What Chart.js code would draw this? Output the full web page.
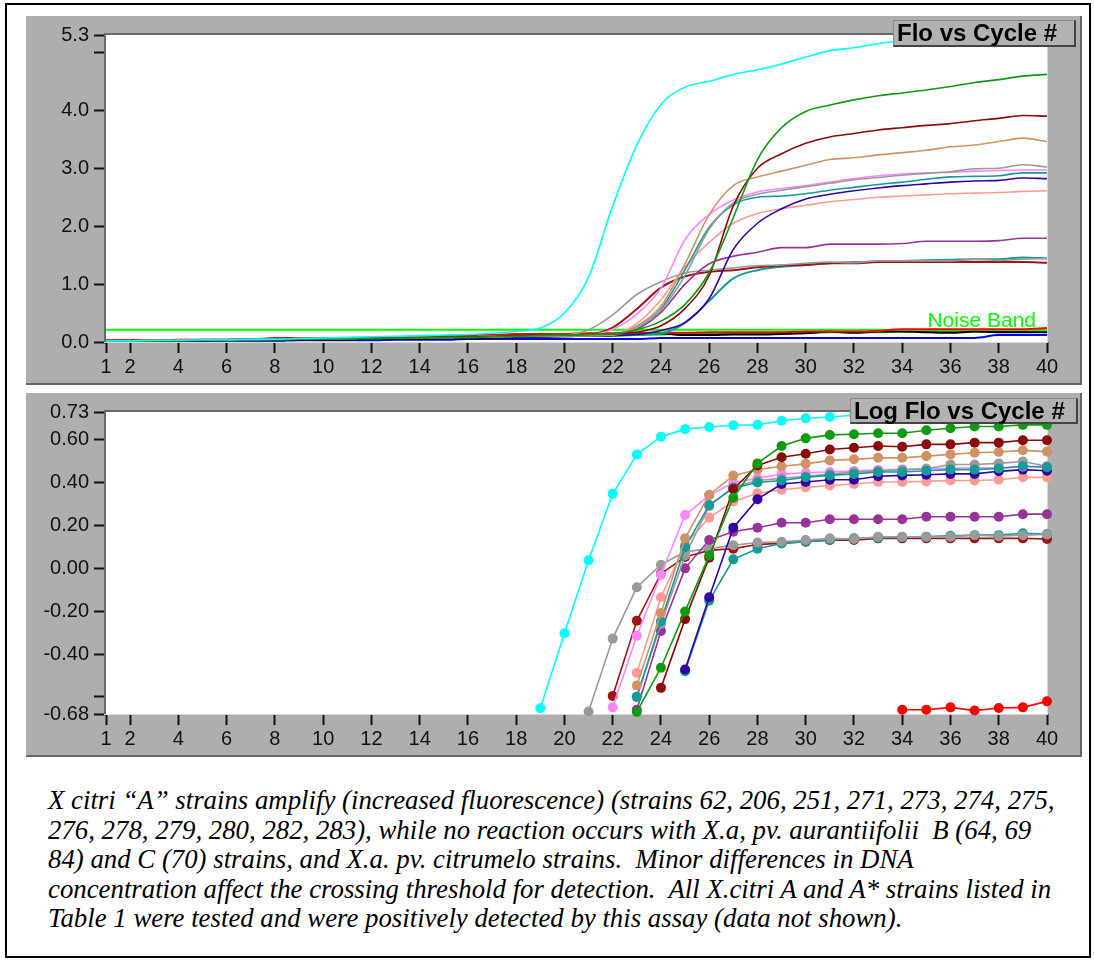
<!DOCTYPE html>
<html><head><meta charset="utf-8">
<script src="https://cdn.jsdelivr.net/npm/chart.js@4.4.1/dist/chart.umd.min.js"></script>
<style>
html,body{margin:0;padding:0;background:#fff;}
body{width:1094px;height:966px;position:relative;overflow:hidden;font-family:"Liberation Sans",Arial,sans-serif;}
#frame{position:absolute;left:5px;top:3px;width:1086px;height:955px;border:2px solid #000;box-sizing:border-box;}
.panel{position:absolute;left:26px;width:1056px;background:#AEAEAE;box-sizing:border-box;border-right:2px solid #666;border-bottom:2px solid #666;}
#p1{top:16px;height:369px;}
#p2{top:393px;height:364px;}
canvas{display:block;}
.title{position:absolute;background:#B2B2B2;font-weight:bold;font-size:24px;line-height:24px;color:#000;box-sizing:border-box;border-top:1px solid #888;border-left:1px solid #888;border-right:2px solid #444;border-bottom:2px solid #444;padding-left:3px;white-space:nowrap;}
#t1{left:893px;top:20px;width:183px;height:27px;}
#t2{left:850px;top:398px;width:228px;height:26px;}
#caption{position:absolute;left:48px;top:786px;font-family:"Liberation Serif","Times New Roman",serif;font-style:italic;font-size:26.8px;line-height:29.6px;white-space:nowrap;color:#000;}
</style></head>
<body>
<div id="frame"></div>
<div class="panel" id="p1"><canvas id="c1" width="1054" height="367"></canvas></div>
<div class="panel" id="p2"><canvas id="c2" width="1054" height="362"></canvas></div>
<div class="title" id="t1">Flo vs Cycle #</div>
<div class="title" id="t2">Log Flo vs Cycle #</div>
<div id="caption">X citri “A” strains amplify (increased fluorescence) (strains 62, 206, 251, 271, 273, 274, 275,<br>276, 278, 279, 280, 282, 283), while no reaction occurs with X.a, pv. aurantiifolii&nbsp; B (64, 69<br>84) and C (70) strains, and X.a. pv. citrumelo strains.&nbsp; Minor differences in DNA<br>concentration affect the crossing threshold for detection.&nbsp; All X.citri A and A* strains listed in<br>Table 1 were tested and were positively detected by this assay (data not shown).</div>
<script>
// ---------- data ----------
const cycles = [1,2,3,4,5,6,7,8,9,10,11,12,13,14,15,16,17,18,19,20,21,22,23,24,25,26,27,28,29,30,31,32,33,34,35,36,37,38,39,40];
const xTickValues = [1,2,4,6,8,10,12,14,16,18,20,22,24,26,28,30,32,34,36,38,40];
const topYTicks = [0,1,2,3,4,5,5.3];
const topYLabels = ['0.0','1.0','2.0','3.0','4.0','','5.3'];
const logYTicks = [-0.68,-0.6,-0.4,-0.2,0,0.2,0.4,0.6,0.73];
const logYLabels = ['-0.68','','-0.40','-0.20','0.00','0.20','0.40','0.60','0.73'];
const noiseLevel = 0.21;

// Flo vs Cycle # (one value per cycle 1..40)
const topCyan   = [0.02,0.02,0.03,0.03,0.04,0.04,0.05,0.05,0.06,0.07,0.08,0.09,0.10,0.11,0.12,0.13,0.15,0.18,0.24,0.50,1.12,2.35,3.40,4.10,4.40,4.50,4.62,4.70,4.80,4.92,5.03,5.08,5.15,5.20,5.24,5.27,5.29,5.30,5.30,5.30];
const topGreen  = [0.01,0.01,0.02,0.02,0.03,0.03,0.04,0.04,0.05,0.05,0.06,0.06,0.07,0.07,0.08,0.08,0.09,0.10,0.11,0.12,0.13,0.14,0.21,0.36,0.65,1.20,2.15,3.15,3.70,3.98,4.09,4.18,4.25,4.30,4.35,4.41,4.48,4.53,4.59,4.62];
const topDarkRed= [0.02,0.02,0.03,0.03,0.04,0.04,0.05,0.05,0.06,0.06,0.07,0.07,0.08,0.08,0.09,0.09,0.10,0.11,0.12,0.12,0.13,0.14,0.17,0.28,0.58,1.15,2.35,3.00,3.25,3.43,3.54,3.60,3.66,3.70,3.74,3.77,3.82,3.86,3.91,3.90];
const topTan    = [0.02,0.02,0.02,0.03,0.03,0.04,0.04,0.05,0.05,0.06,0.06,0.07,0.07,0.08,0.08,0.09,0.09,0.10,0.10,0.11,0.11,0.12,0.28,0.62,1.35,2.20,2.70,2.85,2.95,3.05,3.15,3.18,3.23,3.27,3.31,3.37,3.40,3.46,3.52,3.46];
const topGrayHi = [0.02,0.02,0.03,0.03,0.04,0.04,0.05,0.05,0.05,0.06,0.06,0.07,0.07,0.08,0.08,0.09,0.09,0.10,0.10,0.11,0.11,0.12,0.25,0.55,1.15,1.95,2.40,2.55,2.62,2.68,2.74,2.80,2.84,2.88,2.91,2.94,2.99,3.00,3.06,3.02];
const topPink   = [0.02,0.02,0.03,0.03,0.04,0.04,0.05,0.05,0.06,0.06,0.07,0.07,0.08,0.08,0.09,0.09,0.10,0.10,0.11,0.11,0.12,0.22,0.48,0.93,1.77,2.20,2.45,2.59,2.65,2.70,2.76,2.82,2.87,2.90,2.92,2.93,2.95,2.96,2.97,2.97];
const topTeal   = [0.02,0.02,0.03,0.03,0.03,0.04,0.04,0.05,0.05,0.06,0.06,0.07,0.07,0.08,0.08,0.09,0.09,0.10,0.10,0.11,0.11,0.12,0.25,0.57,1.25,1.98,2.37,2.50,2.52,2.56,2.62,2.67,2.72,2.76,2.81,2.85,2.86,2.87,2.92,2.92];
const topNavy   = [0.01,0.01,0.02,0.02,0.02,0.03,0.03,0.04,0.04,0.05,0.05,0.06,0.06,0.07,0.07,0.08,0.08,0.09,0.09,0.10,0.10,0.11,0.13,0.20,0.34,0.75,1.60,2.05,2.30,2.47,2.55,2.61,2.66,2.70,2.73,2.76,2.78,2.79,2.83,2.82];
const topSalmon = [0.02,0.02,0.03,0.03,0.04,0.04,0.05,0.05,0.06,0.06,0.07,0.07,0.08,0.08,0.09,0.09,0.10,0.10,0.11,0.11,0.12,0.13,0.32,0.73,1.30,1.72,2.05,2.22,2.30,2.36,2.42,2.46,2.50,2.52,2.54,2.56,2.57,2.58,2.60,2.61];
const topPurple = [0.02,0.02,0.03,0.03,0.04,0.04,0.05,0.05,0.06,0.06,0.07,0.07,0.08,0.08,0.09,0.09,0.10,0.10,0.11,0.11,0.12,0.13,0.22,0.51,1.00,1.35,1.48,1.55,1.63,1.63,1.69,1.69,1.69,1.70,1.74,1.74,1.74,1.75,1.79,1.79];
const topGrayLo = [0.02,0.02,0.03,0.03,0.04,0.04,0.05,0.05,0.06,0.06,0.07,0.07,0.08,0.08,0.09,0.09,0.10,0.10,0.11,0.12,0.21,0.47,0.82,1.04,1.19,1.24,1.28,1.32,1.33,1.36,1.38,1.37,1.40,1.40,1.40,1.40,1.43,1.41,1.43,1.44];
const topMaroon = [0.02,0.02,0.03,0.03,0.04,0.04,0.05,0.05,0.06,0.06,0.07,0.07,0.08,0.08,0.09,0.09,0.10,0.10,0.11,0.12,0.13,0.25,0.57,0.94,1.13,1.21,1.24,1.29,1.32,1.33,1.36,1.36,1.38,1.38,1.38,1.38,1.38,1.38,1.38,1.37];
const topTeal2  = [0.01,0.01,0.02,0.02,0.03,0.03,0.04,0.04,0.05,0.05,0.06,0.06,0.07,0.07,0.08,0.08,0.09,0.09,0.10,0.10,0.11,0.12,0.13,0.15,0.33,0.71,1.10,1.24,1.30,1.33,1.36,1.38,1.39,1.40,1.41,1.42,1.43,1.43,1.46,1.44];
const topRed    = [0.03,0.03,0.03,0.04,0.04,0.04,0.04,0.07,0.07,0.07,0.07,0.07,0.08,0.09,0.10,0.12,0.12,0.14,0.14,0.14,0.15,0.15,0.16,0.16,0.16,0.17,0.17,0.17,0.17,0.18,0.18,0.18,0.19,0.22,0.22,0.22,0.22,0.22,0.22,0.24];
const topBlue   = [0.01,0.01,0.01,0.02,0.02,0.02,0.02,0.02,0.03,0.03,0.03,0.03,0.04,0.04,0.04,0.05,0.05,0.05,0.05,0.05,0.05,0.05,0.05,0.07,0.07,0.07,0.07,0.07,0.07,0.07,0.07,0.07,0.07,0.07,0.07,0.07,0.07,0.12,0.12,0.12];
const topBlack  = [0.02,0.02,0.02,0.02,0.03,0.03,0.03,0.03,0.04,0.04,0.04,0.05,0.05,0.05,0.06,0.06,0.07,0.08,0.09,0.10,0.11,0.12,0.14,0.15,0.12,0.12,0.13,0.13,0.14,0.15,0.18,0.16,0.18,0.18,0.17,0.16,0.18,0.17,0.17,0.17];
const topGreen2 = [0.01,0.01,0.02,0.03,0.03,0.03,0.04,0.04,0.05,0.05,0.06,0.06,0.07,0.07,0.08,0.08,0.09,0.09,0.10,0.10,0.11,0.11,0.12,0.13,0.14,0.14,0.15,0.15,0.16,0.16,0.17,0.17,0.17,0.18,0.18,0.18,0.18,0.18,0.18,0.18];

// Log Flo vs Cycle # (values from the first plotted cycle on)
const logCyanFrom = 19;   const logCyan   = [-0.653,-0.303,0.038,0.348,0.532,0.615,0.650,0.660,0.668,0.670,0.689,0.701,0.707,0.715,0.720,0.720,0.725,0.725,0.727,0.728,0.730,0.730];
const logGreenFrom = 23;  const logGreen  = [-0.67,-0.464,-0.201,0.060,0.33,0.49,0.571,0.607,0.623,0.626,0.631,0.631,0.645,0.654,0.662,0.662,0.670,0.670];
const logDarkRedFrom = 24;const logDarkRed= [-0.558,-0.237,0.05,0.37,0.48,0.519,0.535,0.555,0.563,0.571,0.568,0.579,0.579,0.587,0.587,0.598,0.598];
const logTanFrom = 23;    const logTan    = [-0.547,-0.209,0.14,0.344,0.433,0.461,0.477,0.488,0.504,0.509,0.516,0.516,0.524,0.532,0.540,0.543,0.551,0.545];
const logGrayHiFrom = 23; const logGrayHi = [-0.60,-0.26,0.06,0.29,0.38,0.41,0.42,0.43,0.44,0.45,0.455,0.46,0.465,0.485,0.485,0.49,0.499,0.477];
const logPinkFrom = 22;   const logPink   = [-0.649,-0.315,-0.03,0.249,0.34,0.40,0.42,0.44,0.446,0.45,0.455,0.46,0.462,0.465,0.467,0.47,0.47,0.475,0.475];
const logTealFrom = 23;   const logTeal   = [-0.60,-0.247,0.099,0.296,0.375,0.401,0.410,0.425,0.434,0.441,0.450,0.450,0.456,0.461,0.461,0.466,0.477,0.472];
const logNavyFrom = 25;   const logNavy   = [-0.472,-0.135,0.19,0.323,0.394,0.403,0.414,0.414,0.430,0.434,0.437,0.441,0.441,0.453,0.461,0.456];
const logSalmonFrom = 23; const logSalmon = [-0.488,-0.135,0.11,0.237,0.312,0.351,0.367,0.378,0.387,0.394,0.403,0.403,0.406,0.410,0.410,0.414,0.425,0.425];
const logPurpleFrom = 23; const logPurple = [-0.66,-0.292,0.0,0.132,0.171,0.190,0.213,0.213,0.229,0.229,0.229,0.229,0.241,0.241,0.241,0.241,0.253,0.253];
const logGrayLoFrom = 21; const logGrayLo = [-0.668,-0.328,-0.088,0.017,0.077,0.092,0.108,0.121,0.124,0.132,0.140,0.137,0.147,0.147,0.147,0.147,0.155,0.150,0.155,0.158];
const logMaroonFrom = 22; const logMaroon = [-0.596,-0.245,-0.025,0.053,0.084,0.092,0.111,0.118,0.124,0.132,0.132,0.140,0.140,0.140,0.140,0.140,0.140,0.140,0.137];
const logTeal2From = 25;  const logTeal2  = [-0.48,-0.151,0.042,0.092,0.116,0.125,0.133,0.140,0.143,0.146,0.148,0.152,0.155,0.155,0.164,0.160];
const logRedFrom = 34;    const logRed    = [-0.660,-0.660,-0.649,-0.664,-0.652,-0.649,-0.621];

// ---------- colours ----------
const C = {cyan:'#00FFFF', green:'#109A10', darkRed:'#8C0A0A', tan:'#D09262', grayHi:'#9A9A9A', pink:'#FF84FF',
  teal:'#159A9A', navy:'#3300A8', salmon:'#FF9A94', purple:'#993399', grayLo:'#9A9A9A', maroon:'#A01414',
  teal2:'#159A9A', red:'#FF0000', blue:'#0000FF', black:'#000000', green2:'#00C000', noise:'#00FF00'};

const FONT = '"Liberation Sans", Arial, sans-serif';
const full = vals => vals.map((v,i)=>({x:cycles[i], y:v}));
const from = (start, vals) => vals.map((v,i)=>({x:cycles[start-1+i], y:v}));

function scales(yMin, yMax, yTicks, yLabels, xH){
  return {
    x:{type:'linear', min:1, max:40,
      afterBuildTicks:a=>{a.ticks = xTickValues.map(v=>({value:v}));},
      afterFit:s=>{s.height = xH;},
      grid:{drawOnChartArea:false, drawTicks:true, tickLength:11, tickColor:'#111', tickWidth:2},
      border:{display:false},
      ticks:{color:'#111', font:{family:FONT, size:20}, padding:2, maxRotation:0, autoSkip:false, callback:v=>String(v)}},
    y:{type:'linear', min:yMin, max:yMax,
      afterBuildTicks:a=>{a.ticks = yTicks.map(v=>({value:v}));},
      afterFit:s=>{s.width = 80;},
      grid:{drawOnChartArea:false, drawTicks:true, tickLength:12, tickColor:'#111', tickWidth:2},
      border:{display:false},
      ticks:{color:'#111', font:{family:FONT, size:20}, padding:5, autoSkip:false,
        callback:v=>{const k = yTicks.findIndex(t=>Math.abs(t-v)<1e-9); return k>=0 ? yLabels[k] : '';}}}
  };
}

const plotBg = {
  id:'plotBg',
  beforeDatasetsDraw(chart){
    const {ctx, chartArea:a} = chart;
    ctx.save();
    ctx.fillStyle = '#fff';
    ctx.fillRect(a.left, a.top, a.right-a.left, a.bottom-a.top);
    ctx.fillStyle = '#6a6a6a';
    ctx.fillRect(a.left-2, a.top-2, a.right-a.left+2, 2);
    ctx.fillRect(a.left-2, a.top-2, 2, a.bottom-a.top+2);
    ctx.fillStyle = '#d8d8d8';
    ctx.fillRect(a.left-2, a.bottom, a.right-a.left+3, 1);
    ctx.fillRect(a.right, a.top-2, 1, a.bottom-a.top+3);
    ctx.restore();
  }
};

const noiseLabel = {
  id:'noiseLabel',
  afterDatasetsDraw(chart){
    const {ctx, scales:{x, y}} = chart;
    ctx.save();
    ctx.font = '21px ' + FONT;
    ctx.fillStyle = C.noise;
    ctx.textAlign = 'right';
    ctx.textBaseline = 'alphabetic';
    ctx.fillText('Noise Band', x.getPixelForValue(40)-11, y.getPixelForValue(noiseLevel)-3);
    ctx.restore();
  }
};

function lineDs(label, data, color, w){
  return {label, data, borderColor:color, backgroundColor:color, borderWidth:w||1.6, pointRadius:0,
    cubicInterpolationMode:'monotone', fill:false};
}
function logDs(label, data, color){
  return {label, data, borderColor:color, backgroundColor:color, borderWidth:1.6, pointRadius:5,
    pointBorderWidth:0, pointBackgroundColor:color, tension:0, fill:false, clip:8};
}

Chart.defaults.animation = false;
Chart.defaults.font.family = FONT;

new Chart(document.getElementById('c1'), {
  type:'line',
  data:{datasets:[
    lineDs('Cyan', full(topCyan), C.cyan),
    lineDs('Green', full(topGreen), C.green),
    lineDs('Dark red', full(topDarkRed), C.darkRed),
    lineDs('Tan', full(topTan), C.tan),
    lineDs('Gray', full(topGrayHi), C.grayHi),
    lineDs('Pink', full(topPink), C.pink),
    lineDs('Teal', full(topTeal), C.teal),
    lineDs('Navy', full(topNavy), C.navy),
    lineDs('Salmon', full(topSalmon), C.salmon),
    lineDs('Purple', full(topPurple), C.purple),
    lineDs('Gray 2', full(topGrayLo), C.grayLo),
    lineDs('Maroon', full(topMaroon), C.maroon, 2),
    lineDs('Teal 2', full(topTeal2), C.teal2, 2),
    lineDs('Red', full(topRed), C.red, 2),
    {label:'Noise band', data:[{x:cycles[0],y:noiseLevel},{x:cycles[cycles.length-1],y:noiseLevel}], borderColor:C.noise, borderWidth:2, pointRadius:0},
    lineDs('Black', full(topBlack), C.black, 2),
    lineDs('Green 2', full(topGreen2), C.green2, 2),
    lineDs('Blue', full(topBlue), C.blue, 2)
  ]},
  options:{responsive:false, animation:false, parsing:true,
    layout:{padding:{top:19, right:33, left:0, bottom:0}},
    plugins:{legend:{display:false}, tooltip:{enabled:false}, title:{display:false}},
    scales:scales(0, 5.3, topYTicks, topYLabels, 41)},
  plugins:[plotBg, noiseLabel]
});

new Chart(document.getElementById('c2'), {
  type:'line',
  data:{datasets:[
    logDs('Cyan', from(logCyanFrom, logCyan), C.cyan),
    logDs('Green', from(logGreenFrom, logGreen), C.green),
    logDs('Dark red', from(logDarkRedFrom, logDarkRed), C.darkRed),
    logDs('Tan', from(logTanFrom, logTan), C.tan),
    logDs('Teal', from(logTealFrom, logTeal), C.teal),
    logDs('Gray', from(logGrayHiFrom, logGrayHi), C.grayHi),
    logDs('Pink', from(logPinkFrom, logPink), C.pink),
    logDs('Navy', from(logNavyFrom, logNavy), C.navy),
    logDs('Salmon', from(logSalmonFrom, logSalmon), C.salmon),
    logDs('Purple', from(logPurpleFrom, logPurple), C.purple),
    logDs('Gray 2', from(logGrayLoFrom, logGrayLo), C.grayLo),
    logDs('Teal 2', from(logTeal2From, logTeal2), C.teal2),
    logDs('Maroon', from(logMaroonFrom, logMaroon), C.maroon),
    logDs('Red', from(logRedFrom, logRed), C.red)
  ]},
  options:{responsive:false, animation:false,
    layout:{padding:{top:19, right:33, left:0, bottom:0}},
    plugins:{legend:{display:false}, tooltip:{enabled:false}, title:{display:false}},
    scales:scales(-0.68, 0.73, logYTicks, logYLabels, 41)},
  plugins:[plotBg]
});
</script>
</body></html>
